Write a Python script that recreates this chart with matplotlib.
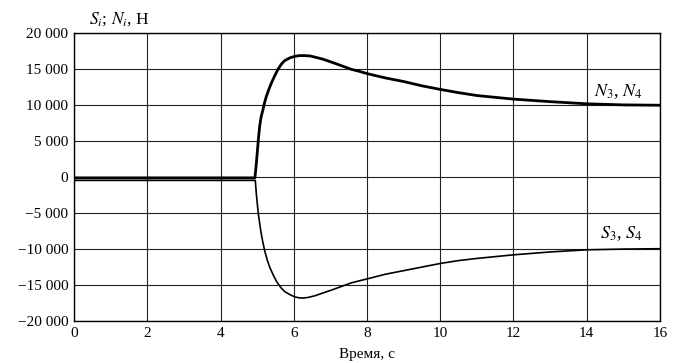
import matplotlib
matplotlib.use("Agg")
import matplotlib.pyplot as plt
from matplotlib.ticker import FuncFormatter

plt.rcParams["font.family"] = ["Liberation Serif", "DejaVu Serif"]
plt.rcParams["mathtext.fontset"] = "stix"

# Time, s
t_n = [0.0, 4.94, 4.98, 5.01, 5.04, 5.07, 5.11, 5.16, 5.2, 5.25, 5.32, 5.39, 5.48, 5.57,
       5.66, 5.75, 5.9, 6.03, 6.15, 6.3, 6.45, 6.57, 6.8, 7.03, 7.3, 7.57, 7.8, 8.0,
       8.5, 9.0, 9.5, 10.0, 10.5, 11.0, 12.0, 13.0, 14.0, 15.0, 16.0]
# Normal forces N3, N4, H
n_vals = [-100, -100, 2000, 3800, 5600, 7100, 8400, 9400, 10300, 11200, 12200, 13100, 14100, 15000,
          15700, 16200, 16600, 16800, 16900, 16900, 16850, 16700, 16400, 16000, 15500, 15000, 14700, 14400,
          13800, 13300, 12700, 12200, 11750, 11350, 10850, 10500, 10200, 10050, 10000]

t_s = [0.0, 0.02, 4.95, 4.98, 5.03, 5.07, 5.1, 5.15, 5.21, 5.28, 5.35, 5.44, 5.53, 5.64, 5.75,
       5.9, 6.03, 6.15, 6.26, 6.4, 6.57, 6.8, 7.03, 7.3, 7.57, 7.8, 8.0,
       8.5, 9.0, 9.5, 10.0, 10.5, 11.0, 12.0, 13.0, 14.0, 15.0, 16.0]
# Lateral forces S3, S4, H
s_vals = [-700, -450, -450, -2400, -5000, -6400, -7500, -8900, -10300, -11600, -12600, -13600, -14500,
          -15300, -15900, -16350, -16650, -16780, -16800, -16720, -16500, -16100, -15700, -15200,
          -14700, -14400, -14150, -13500, -13000, -12500, -12000, -11600, -11300, -10800, -10400,
          -10100, -10000, -9950]

x_ticks = [0, 2, 4, 6, 8, 10, 12, 14, 16]
y_ticks = [-20000, -15000, -10000, -5000, 0, 5000, 10000, 15000, 20000]

fig = plt.figure(figsize=(6.79, 3.63), dpi=100)
ax = fig.add_axes([0.109, 0.1157, 0.863, 0.7925])

ax.plot(t_n, n_vals, color="black", lw=2.0, solid_joinstyle="round", zorder=3)
ax.plot(t_s, s_vals, color="black", lw=1.2, solid_joinstyle="round", zorder=3)

ax.set_xlim(0, 16)
ax.set_ylim(-20000, 20000)
ax.set_xticks(x_ticks)
ax.set_yticks(y_ticks)


def fmt(v, pos):
    v = int(round(v))
    s = f"{abs(v):,}".replace(",", " ")
    return ("\u2212" if v < 0 else "") + s


ax.yaxis.set_major_formatter(FuncFormatter(fmt))
ax.grid(True, color="#222222", lw=0.8)
ax.set_axisbelow(True)
ax.tick_params(length=0, labelsize=11, pad=4)
for sp in ax.spines.values():
    sp.set_linewidth(1.0)
    sp.set_color("black")

ax.set_xlabel("Время, с", fontsize=11, labelpad=6)
fig.text(0.131, 0.935, r"$S_i$; $N_i$, Н", fontsize=12.5, ha="left", va="baseline")

ax.text(14.2, 11900, r"$N_3$, $N_4$", fontsize=13, ha="left", va="center")
ax.text(14.35, -7900, r"$S_3$, $S_4$", fontsize=13, ha="left", va="center")

fig.savefig("out.png", dpi=100)
